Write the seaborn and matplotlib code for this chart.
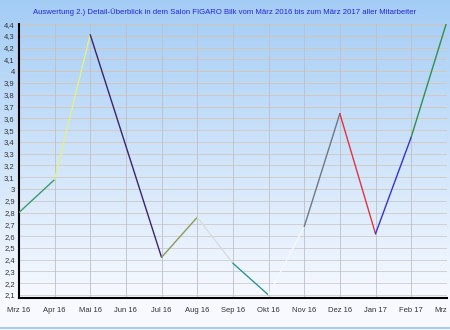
import numpy as np
import pandas as pd
import seaborn as sns
import matplotlib
matplotlib.use('Agg')
import matplotlib.pyplot as plt
from matplotlib.ticker import MultipleLocator

# Monatswerte (Jun 16 ohne Wert)
monate = ['Mrz 16', 'Apr 16', 'Mai 16', 'Jun 16', 'Jul 16', 'Aug 16', 'Sep 16',
          'Okt 16', 'Nov 16', 'Dez 16', 'Jan 17', 'Feb 17', 'Mrz']
werte = [2.8, 3.08, 4.31, np.nan, 2.42, 2.76, 2.37, 2.1, 2.68, 3.64, 2.62, 3.44, 4.42]
# Farbe je Teilstück der Linie
seg_farben = ['#3c9a6c', '#e2f08a', '#3a2470', '#8c9c52', '#d6dede', '#2e9494',
              '#f6f8ff', '#6e7888', '#e03444', '#3434d0', '#2f9050']
y_ticks = [2.1, 2.2, 2.3, 2.4, 2.5, 2.6, 2.7, 2.8, 2.9, 3.0, 3.1, 3.2, 3.3,
           3.4, 3.5, 3.6, 3.7, 3.8, 3.9, 4.0, 4.1, 4.2, 4.3, 4.4]
titel = ('Auswertung 2.) Detail-Überblick in dem Salon FIGARO Bilk vom März 2016 '
         'bis zum März 2017 aller Mitarbeiter')

sns.set_style('white')
plt.rcParams['font.family'] = ['Liberation Sans', 'DejaVu Sans']

# Teilstücke bauen
pts = [(i, v) for i, v in enumerate(werte) if not np.isnan(v)]
rows = []
for k in range(len(pts) - 1):
    for (x, y) in (pts[k], pts[k + 1]):
        rows.append({'x': x, 'y': y, 'seg': f's{k}'})
df = pd.DataFrame(rows)
palette = {f's{k}': c for k, c in enumerate(seg_farben)}

fig = plt.figure(figsize=(4.5, 3.3), dpi=100)

# Hintergrundverlauf
bg = fig.add_axes([0, 0, 1, 1], zorder=0)
t = np.linspace(0, 1, 330)
t = np.clip(t / 0.91, 0, 1)
top = np.array([0.64, 0.80, 0.96])
bot = np.array([0.97, 0.98, 1.0])
grad = top[None, :] * (1 - t[:, None]) + bot[None, :] * t[:, None]
bg.imshow(grad[:, None, :], aspect='auto', extent=[0, 1, 0, 1], origin='upper')
bg.axhline(0.006, color='#a8cdf3', lw=1.5)
bg.set_xlim(0, 1)
bg.set_ylim(0, 1)
bg.axis('off')

ax = fig.add_axes([0.042, 0.097, 0.951, 0.83], zorder=1)
ax.set_facecolor('none')

# Gitterlinien: oben orange, unten grau
c_top = np.array([0.86, 0.76, 0.66])
c_bot = np.array([0.80, 0.80, 0.83])
for v in y_ticks:
    f = (v - 2.1) / 2.3
    ax.axhline(v, color=c_bot * (1 - f) + c_top * f, lw=0.6, zorder=1)
for i in range(1, len(monate)):
    ax.axvline(i, color='#bcc0ca', lw=0.6, zorder=1)

sns.lineplot(data=df, x='x', y='y', hue='seg', palette=palette, units='seg',
             estimator=None, sort=False, legend=False, lw=1.0, ax=ax, zorder=3)

ax.set_xlim(0, 12)
ax.set_ylim(2.075, 4.4)
ax.set_xticks(range(len(monate)))
ax.set_xticklabels(monate, fontsize=5.5, color='#333333')
ax.xaxis.set_minor_locator(MultipleLocator(0.25))
ax.set_yticks(y_ticks)
ax.set_yticklabels([f'{v:.1f}'.replace('.', ',').replace(',0', '') for v in y_ticks],
                   fontsize=5.5, color='#333333')
ax.tick_params(axis='x', which='major', length=3.5, width=0.7, direction='out', pad=3)
ax.tick_params(axis='x', which='minor', length=2, width=0.5, direction='out')
ax.tick_params(axis='y', length=0, pad=3)
for s in ['top', 'right']:
    ax.spines[s].set_visible(False)
ax.spines['left'].set_linewidth(1.5)
ax.spines['bottom'].set_linewidth(1.5)
ax.spines['left'].set_color('black')
ax.spines['bottom'].set_color('black')
ax.set_xlabel('')
ax.set_ylabel('')
# letzte Beschriftung an den Rand rücken
ax.get_xticklabels()[-1].set_horizontalalignment('right')
ax.get_xticklabels()[-1].set_x(12.15)

fig.text(0.5, 0.962, titel, ha='center', va='center', fontsize=5.6, color='#2424d8')

fig.savefig('out.png', dpi=100)
